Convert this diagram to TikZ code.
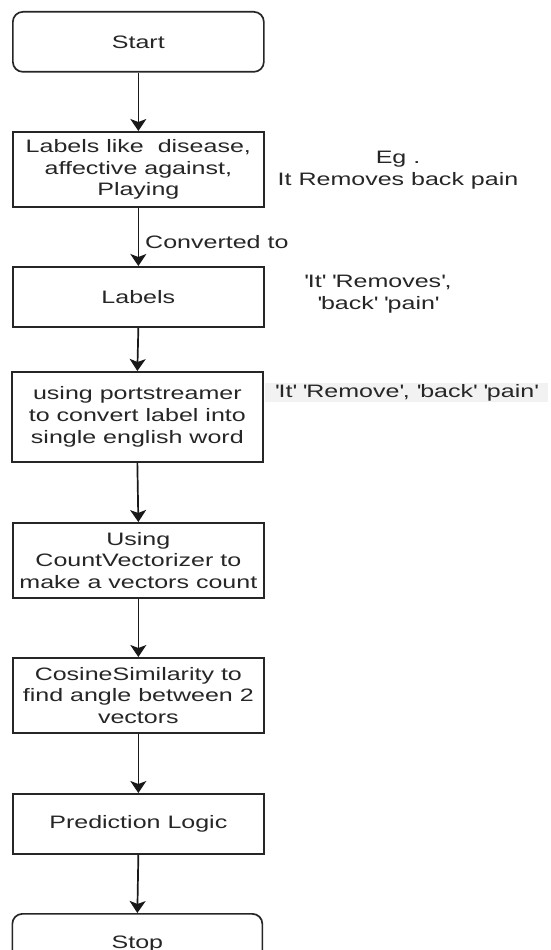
\documentclass[tikz,border=0pt]{standalone}
\usepackage{fontspec}
\setmainfont[FakeStretch=1.39]{Liberation Sans}
\usetikzlibrary{arrows.meta}
\newcommand\sq{\textquotesingle}
\begin{document}
\begin{tikzpicture}[x=1pt,y=-1pt,
  every node/.style={font=\fontsize{18pt}{21.6pt}\selectfont, text=black!85},
  flowbox/.style={draw=black!85, line width=1.7pt, align=center, anchor=north west,
                  inner sep=0pt, minimum width=251pt},
  terminal/.style={flowbox, rounded corners=10pt},
  flow/.style={draw=black!90, line width=1.7pt,
               -{Stealth[length=12pt,width=16pt,inset=3pt]}},
  note/.style={align=center, inner sep=0pt}
]
\clip (0,0) rectangle (550,950);
\fill[white] (0,0) rectangle (550,950);

% main column of steps
\node[terminal, minimum height=60pt] (start) at (12,11) {Start};
\node[flowbox, minimum height=75pt] (labelsin) at (12,131)
  {Labels like\ \ disease,\\affective against,\\Playing};
\node[flowbox, minimum height=60pt] (labels) at (12,266) {Labels};
\node[flowbox, minimum height=90pt] (stem) at (11,371)
  {using portstreamer\\to convert label into\\single english word};
\node[flowbox, minimum height=75pt] (vect) at (12,522)
  {Using\\CountVectorizer to\\make a vectors count};
\node[flowbox, minimum height=75pt] (cosine) at (12,657)
  {CosineSimilarity to\\find angle between 2\\vectors};
\node[flowbox, minimum height=60pt] (predict) at (12,793) {Prediction Logic};
\node[terminal, minimum width=250pt, minimum height=60pt] (stop) at (11.5,913) {Stop};

% connectors
\draw[flow] (start.south) -- (labelsin.north);
\draw[flow] (labelsin.south) -- (labels.north);
\draw[flow] (labels.south) -- (stem.north);
\draw[flow] (stem.south) -- (vect.north);
\draw[flow] (vect.south) -- (cosine.north);
\draw[flow] (cosine.south) -- (predict.north);
\draw[flow] (predict.south) -- (stop.north);

% side notes
\node[note, anchor=west] (conv) at (145,242) {Converted to};
\node[note] (example) at (398,170) {Eg .\\It Removes back pain};
\node[note] (tokens) at (378,294)
  {\sq It\sq{} \sq Removes\sq,\\\sq back\sq{} \sq pain\sq};
\node[note, anchor=west, fill=black!5, inner xsep=10pt, minimum height=19pt] (stemmed)
  at (265,392.5) {\sq It\sq{} \sq Remove\sq, \sq back\sq{} \sq pain\sq};
\end{tikzpicture}
\end{document}
